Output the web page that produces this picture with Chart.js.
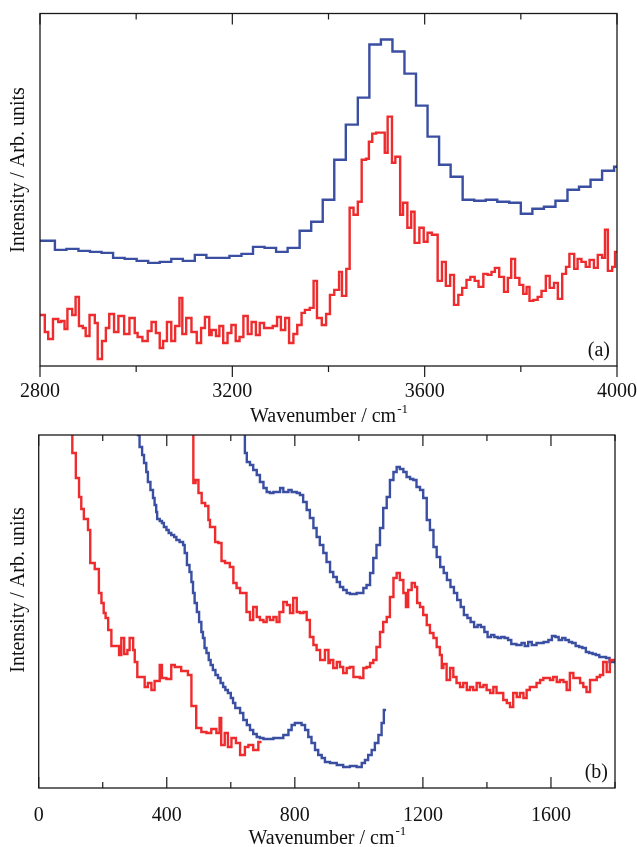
<!DOCTYPE html>
<html>
<head>
<meta charset="utf-8">
<script src="https://cdn.jsdelivr.net/npm/chart.js@4.4.1/dist/chart.umd.min.js"></script>
<style>
  html, body { margin: 0; padding: 0; background: #fff; }
  #wrap { position: relative; width: 637px; height: 847px; }
  canvas { position: absolute; left: 0; }
  #chartA { top: 0; }
  #chartB { top: 420px; }
</style>
</head>
<body>
<div id="wrap">
  <canvas id="chartA" width="637" height="432"></canvas>
  <canvas id="chartB" width="637" height="427"></canvas>
</div>
<script>
// ---- panel (a): 2800-4000 cm-1 ----
var aBlueX = [2800, 2831, 2855, 2880, 2904, 2928, 2952, 2976, 3001, 3025,
  3049, 3073, 3097, 3122, 3146, 3170, 3194, 3219, 3243, 3267,
  3291, 3315, 3340, 3364, 3388, 3412, 3436, 3461, 3485, 3509,
  3533, 3558, 3582, 3606, 3630, 3654, 3679, 3703, 3727, 3751,
  3776, 3800, 3824, 3848, 3872, 3897, 3921, 3945, 3969, 3994];
var aBlueY = [125, 116, 117, 115, 114, 113, 108, 107, 105, 103,
  104, 107, 105, 111, 108, 108, 110, 112, 119, 118,
  114, 118, 135, 144, 166, 206, 241, 268, 321, 326,
  314, 292, 260, 229, 201, 189, 166, 165, 166, 164,
  163, 152, 157, 159, 165, 176, 179, 186, 195, 199];

var aRedX = [2800, 2810, 2817, 2827, 2838, 2844, 2851, 2857, 2867, 2874,
  2881, 2889, 2895, 2903, 2914, 2920, 2929, 2937, 2944, 2954,
  2963, 2975, 2986, 2997, 3003, 3013, 3024, 3032, 3041, 3049,
  3056, 3064, 3073, 3081, 3090, 3096, 3104, 3115, 3126, 3135,
  3143, 3152, 3157, 3166, 3173, 3181, 3190, 3198, 3207, 3215,
  3223, 3232, 3240, 3249, 3257, 3266, 3276, 3284, 3293, 3301,
  3310, 3318, 3327, 3335, 3344, 3351, 3361, 3369, 3376, 3386,
  3395, 3403, 3412, 3422, 3428, 3437, 3444, 3452, 3461, 3469,
  3478, 3484, 3491, 3499, 3517, 3523, 3532, 3539, 3549, 3555,
  3564, 3572, 3579, 3589, 3598, 3606, 3615, 3627, 3636, 3644,
  3653, 3661, 3670, 3678, 3687, 3695, 3704, 3712, 3722, 3731,
  3739, 3746, 3755, 3765, 3773, 3780, 3788, 3797, 3805, 3812,
  3818, 3826, 3835, 3843, 3852, 3860, 3869, 3877, 3886, 3894,
  3901, 3911, 3918, 3926, 3935, 3943, 3952, 3960, 3969, 3975,
  3981, 3990, 3996];
var aRedY = [51, 34, 27, 47, 44, 45, 37, 57, 51, 69,
  40, 38, 30, 51, 43, 7, 25, 38, 52, 34,
  50, 32, 48, 33, 29, 25, 35, 44, 33, 18,
  25, 44, 25, 40, 68, 32, 48, 34, 23, 38,
  49, 31, 36, 30, 40, 23, 33, 41, 25, 29,
  50, 32, 44, 31, 43, 38, 38, 40, 49, 36,
  48, 23, 32, 41, 53, 56, 58, 85, 48, 41,
  52, 71, 76, 94, 70, 97, 158, 151, 164, 206,
  207, 224, 232, 233, 213, 249, 203, 209, 151, 163,
  138, 154, 123, 138, 124, 133, 131, 85, 104, 80,
  91, 61, 71, 78, 86, 89, 85, 79, 92, 91,
  94, 98, 89, 74, 88, 107, 88, 81, 72, 79,
  65, 66, 69, 75, 90, 78, 83, 67, 92, 99,
  112, 97, 107, 104, 99, 106, 98, 111, 108, 136,
  95, 99, 114];

// ---- panel (b): 0-1800 cm-1 ----
var bRed1X = [90, 105, 116, 126, 133, 141, 154, 161, 175, 188,
  196, 203, 209, 217, 227, 251, 258, 267, 277, 284,
  295, 300, 308, 331, 341, 352, 362, 378, 385, 399,
  414, 425, 445, 466, 477, 492, 508, 524, 539, 555,
  565, 570, 581, 591, 602, 616, 629, 644, 655, 670, 686];
var bRed1Y = [420, 335, 310, 291, 279, 269, 258, 225, 219, 195,
  185, 175, 170, 158, 142, 133, 150, 134, 138, 150,
  138, 126, 111, 101, 105, 98, 107, 123, 110, 109,
  123, 121, 117, 113, 82, 60, 56, 55, 59, 55,
  70, 43, 55, 41, 50, 45, 33, 41, 43, 38, 46];

var bBlue1X = [300, 310, 315, 323, 329, 336, 341, 349, 357, 362,
  367, 370, 378, 385, 391, 399, 406, 414, 423, 430,
  440, 451, 456, 463, 471, 477, 482, 487, 494, 501,
  508, 513, 518, 524, 531, 537, 544, 552, 560, 568,
  576, 583, 591, 600, 607, 614, 629, 639, 650, 660,
  670, 681, 691, 702, 733, 764, 780, 790, 800, 821,
  832, 842, 852, 863, 873, 884, 894, 910, 931, 951,
  972, 993, 1009, 1019, 1029, 1040, 1050, 1061, 1071, 1078];
var bBlue1Y = [420, 353, 341, 333, 325, 316, 306, 298, 290, 283,
  276, 269, 267, 265, 261, 258, 255, 253, 251, 248,
  246, 243, 235, 223, 216, 206, 195, 185, 176, 166,
  156, 150, 140, 135, 128, 123, 118, 113, 110, 105,
  101, 98, 95, 90, 85, 80, 75, 68, 63, 58,
  54, 51, 50, 49, 50, 53, 58, 63, 65, 63,
  58, 51, 45, 38, 33, 30, 26, 25, 23, 21,
  22, 21, 25, 28, 33, 38, 45, 53, 65, 78];

var bRed2X = [460, 483, 490, 499, 509, 520, 530, 535, 551, 561,
  571, 582, 597, 608, 618, 629, 649, 660, 670, 681,
  691, 702, 712, 722, 733, 743, 752, 764, 775, 785,
  795, 806, 816, 827, 837, 847, 858, 868, 879, 894,
  905, 910, 920, 931, 941, 951, 962, 972, 983, 1003,
  1014, 1024, 1035, 1045, 1055, 1066, 1076, 1087, 1097, 1108,
  1118, 1128, 1139, 1147, 1154, 1165, 1175, 1182, 1191, 1201,
  1212, 1222, 1233, 1243, 1253, 1259, 1264, 1274, 1285, 1295,
  1305, 1316, 1326, 1337, 1347, 1357, 1368, 1378, 1389, 1399,
  1410, 1420, 1430, 1441, 1451, 1462, 1472, 1482, 1493, 1503,
  1514, 1524, 1534, 1545, 1555, 1566, 1576, 1586, 1597, 1607,
  1618, 1628, 1639, 1649, 1659, 1670, 1680, 1691, 1701, 1711,
  1722, 1732, 1743, 1753, 1763, 1774, 1784, 1795];
var bRed2Y = [420, 305, 308, 295, 285, 282, 268, 261, 246, 245,
  227, 225, 221, 205, 200, 195, 176, 168, 181, 171,
  168, 166, 171, 168, 171, 166, 176, 186, 183, 175,
  190, 176, 175, 176, 168, 151, 143, 138, 128, 138,
  125, 128, 120, 126, 121, 115, 120, 121, 111, 110,
  120, 121, 125, 128, 141, 156, 166, 171, 191, 210,
  215, 208, 195, 181, 198, 205, 201, 185, 181, 173,
  163, 155, 150, 141, 133, 120, 124, 108, 120, 111,
  105, 101, 105, 98, 101, 98, 105, 101, 103, 98,
  95, 101, 95, 95, 88, 85, 81, 95, 91, 95,
  90, 98, 101, 101, 105, 108, 110, 110, 108, 111,
  106, 108, 106, 98, 115, 110, 110, 105, 101, 96,
  108, 108, 111, 113, 126, 116, 128, 128];

var bBlue2X = [625, 644, 650, 660, 670, 681, 691, 702, 712, 722,
  733, 754, 764, 780, 790, 806, 816, 826, 837, 847,
  858, 868, 878, 889, 899, 910, 920, 931, 941, 951,
  962, 972, 993, 1014, 1024, 1035, 1045, 1055, 1066, 1076,
  1087, 1097, 1108, 1118, 1128, 1139, 1149, 1160, 1170, 1180,
  1191, 1201, 1212, 1222, 1233, 1243, 1254, 1265, 1275, 1286,
  1297, 1307, 1318, 1328, 1339, 1349, 1360, 1371, 1381, 1392,
  1402, 1413, 1423, 1434, 1444, 1455, 1466, 1476, 1492, 1508,
  1518, 1529, 1540, 1555, 1577, 1592, 1603, 1614, 1624, 1635,
  1645, 1656, 1666, 1677, 1688, 1698, 1709, 1719, 1730, 1740,
  1751, 1762, 1772, 1783, 1799];
var bBlue2Y = [420, 335, 326, 323, 318, 313, 306, 300, 296, 295,
  296, 300, 296, 298, 296, 295, 293, 286, 278, 270,
  260, 251, 243, 235, 226, 216, 211, 206, 201, 198,
  195, 194, 195, 200, 203, 215, 230, 243, 260, 280,
  291, 308, 316, 321, 319, 316, 311, 309, 308, 301,
  298, 290, 268, 258, 241, 231, 221, 215, 208, 201,
  195, 188, 181, 173, 170, 166, 161, 163, 161, 156,
  151, 153, 151, 150, 151, 150, 148, 144, 143, 145,
  142, 146, 143, 145, 146, 148, 152, 151, 148, 150,
  148, 146, 145, 142, 141, 140, 136, 135, 134, 133,
  131, 131, 130, 126, 127];

var BLUE = '#3a4ea2';
var RED = '#ee2b2d';
var SERIF = '"Liberation Serif", "Times New Roman", serif';

// pairs x/y arrays into points, closing the last step at xEnd
function steps(xs, ys, xEnd) {
  var pts = xs.map(function (x, i) { return {x: x, y: ys[i]}; });
  pts.push({x: xEnd, y: ys[ys.length - 1]});
  return pts;
}

function line(data, color) {
  return {
    data: data,
    borderColor: color,
    borderWidth: 2.4,
    pointRadius: 0,
    stepped: true,
    fill: false
  };
}

// frame, inward/outward ticks, titles and panel tag
var decor = {
  id: 'decor',
  afterDraw: function (chart, args, o) {
    var ctx = chart.ctx, a = chart.chartArea, x = chart.scales.x;
    ctx.save();
    ctx.strokeStyle = '#1a1a1a';
    ctx.lineWidth = 1.3;
    ctx.strokeRect(a.left, a.top, a.right - a.left, a.bottom - a.top);
    ctx.lineWidth = 1.2;
    x.ticks.forEach(function (t) {
      var px = x.getPixelForValue(t.value);
      var len = (t.value % 400 === 0) ? 11 : 6;
      ctx.beginPath();
      ctx.moveTo(px, a.top);
      ctx.lineTo(px, a.top + len);
      ctx.moveTo(px, a.bottom);
      ctx.lineTo(px, o.outBottom ? a.bottom + len : a.bottom - len);
      ctx.stroke();
    });

    ctx.fillStyle = '#111';
    // y title
    ctx.save();
    ctx.translate(19, 170);
    ctx.rotate(-Math.PI / 2);
    ctx.font = '20px ' + SERIF;
    ctx.textAlign = 'center';
    ctx.textBaseline = 'middle';
    ctx.fillText('Intensity / Arb. units', 0, 0);
    ctx.restore();

    // x title with superscript
    ctx.font = '20px ' + SERIF;
    var main = 'Wavenumber / cm';
    var w1 = ctx.measureText(main).width;
    ctx.font = '13px ' + SERIF;
    var w2 = ctx.measureText('-1').width;
    var sx = (a.left + a.right) / 2 - (w1 + w2) / 2;
    var by = a.bottom + 56;
    ctx.textAlign = 'left';
    ctx.textBaseline = 'alphabetic';
    ctx.font = '20px ' + SERIF;
    ctx.fillText(main, sx, by);
    ctx.font = '13px ' + SERIF;
    ctx.fillText('-1', sx + w1 + 1, by - 9);

    // panel tag
    ctx.font = '20px ' + SERIF;
    ctx.textAlign = 'right';
    ctx.fillText(o.tag, a.right - 7, a.bottom - 10);
    ctx.restore();
  }
};

function makeChart(id, datasets, xmin, xmax, ymax, pad, leftW, xH, labelPad, tag, outBottom) {
  return new Chart(document.getElementById(id).getContext('2d'), {
    type: 'line',
    data: {datasets: datasets},
    plugins: [decor],
    options: {
      responsive: false,
      animation: false,
      events: [],
      layout: {padding: pad},
      plugins: {
        legend: {display: false},
        tooltip: {enabled: false},
        decor: {tag: tag, outBottom: outBottom}
      },
      scales: {
        x: {
          type: 'linear',
          min: xmin,
          max: xmax,
          grid: {display: false},
          border: {display: false},
          ticks: {
            stepSize: 200,
            autoSkip: false,
            maxRotation: 0,
            padding: labelPad,
            color: '#111',
            font: {family: SERIF, size: 20},
            callback: function (v) { return v % 400 === 0 ? String(v) : ''; }
          },
          afterFit: function (s) { s.height = xH; s.paddingLeft = 0; s.paddingRight = 0; }
        },
        y: {
          min: 0,
          max: ymax,
          grid: {display: false},
          border: {display: false},
          ticks: {display: false},
          afterFit: function (s) { s.width = leftW; }
        }
      }
    }
  });
}

makeChart('chartA', [
  line(steps(aBlueX, aBlueY, 4000), BLUE),
  line(steps(aRedX, aRedY, 4000), RED)
], 2800, 4000, 352, {left: 0, right: 20, top: 13.5, bottom: 0}, 40, 66, 6, '(a)', true);

makeChart('chartB', [
  line(steps(bRed1X, bRed1Y, 696), RED),
  line(steps(bBlue1X, bBlue1Y, 1085), BLUE),
  line(steps(bRed2X, bRed2Y, 1800), RED),
  line(steps(bBlue2X, bBlue2Y, 1800), BLUE)
], 0, 1800, 353, {left: 0, right: 22, top: 15, bottom: 0}, 38.7, 59, 8, '(b)', false);
</script>
</body>
</html>
